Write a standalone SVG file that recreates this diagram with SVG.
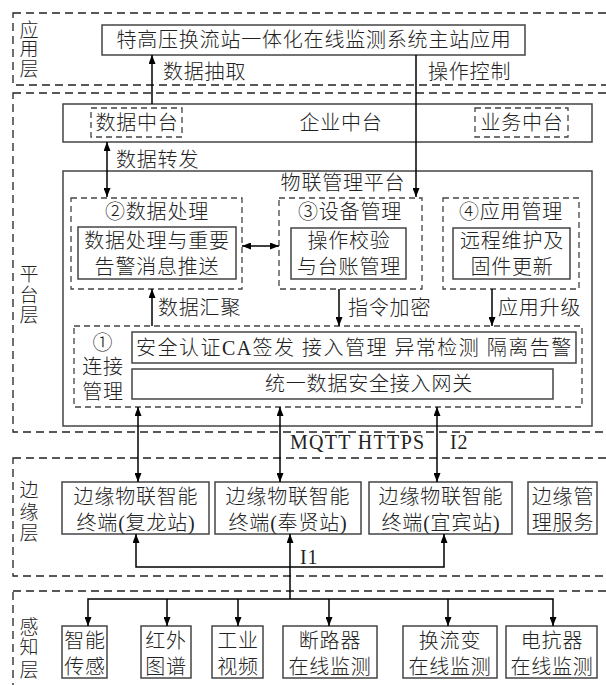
<svg xmlns="http://www.w3.org/2000/svg" width="606" height="685" viewBox="0 0 606 685">
<style>
.layer{fill:none;stroke:#222;stroke-width:1.3;stroke-dasharray:8 5}
.dbox{fill:none;stroke:#444;stroke-width:1.3;stroke-dasharray:6 4}
.box{fill:none;stroke:#444;stroke-width:1.5}
.ln{fill:none;stroke:#000;stroke-width:1.5}
.t{font-family:'Liberation Serif','Noto Sans CJK SC',serif;font-size:20px;fill:#222;letter-spacing:0.8px;font-weight:300}
.m{text-anchor:middle}
.lab{font-size:19px;letter-spacing:0}
</style>
<defs>
<marker id="ar" markerUnits="userSpaceOnUse" markerWidth="9" markerHeight="7" refX="9" refY="3.5" orient="auto-start-reverse">
<path d="M0,0 L9,3.5 L0,7 z" fill="#000"/>
</marker>
</defs>
<rect width="606" height="685" fill="#fff"/>

<g id="layers">
<rect class="layer" x="13" y="13" width="600" height="72"/>
<rect class="layer" x="13" y="93" width="600" height="339"/>
<rect class="layer" x="13" y="458" width="600" height="118"/>
<rect class="layer" x="13" y="591" width="600" height="100"/>
<text class="t m lab"><tspan x="29" y="37">应</tspan><tspan x="29" y="56">用</tspan><tspan x="29" y="76">层</tspan></text>
<text class="t m lab"><tspan x="29" y="281">平</tspan><tspan x="29" y="302">台</tspan><tspan x="29" y="322">层</tspan></text>
<text class="t m lab"><tspan x="29" y="497">边</tspan><tspan x="29" y="519">缘</tspan><tspan x="29" y="540">层</tspan></text>
<text class="t m lab"><tspan x="29" y="634">感</tspan><tspan x="29" y="654">知</tspan><tspan x="29" y="677">层</tspan></text>
</g>

<g id="master-app">
<rect class="box" x="102" y="25" width="423" height="30"/>
<text class="t m" x="314" y="47">特高压换流站一体化在线监测系统主站应用</text>
</g>

<g id="enterprise">
<rect class="box" x="63" y="104" width="529" height="38"/>
<rect class="dbox" x="91" y="108" width="91" height="29"/>
<text class="t m" x="137" y="130">数据中台</text>
<text class="t m" x="341" y="130">企业中台</text>
<rect class="dbox" x="475" y="108" width="93" height="29"/>
<text class="t m" x="522" y="130">业务中台</text>
</g>

<g id="iot-platform">
<rect class="box" x="63" y="171" width="529" height="255"/>
<text class="t m" x="343" y="190">物联管理平台</text>
</g>

<g id="data-proc">
<rect class="dbox" x="71" y="198" width="171" height="91"/>
<text class="t m" x="157" y="219">②数据处理</text>
<rect class="box" x="78" y="227" width="158" height="52"/>
<text class="t m" x="157" y="248">数据处理与重要</text>
<text class="t m" x="157" y="274">告警消息推送</text>
</g>

<g id="dev-mgmt">
<rect class="dbox" x="279" y="198" width="143" height="91"/>
<text class="t m" x="350" y="219">③设备管理</text>
<rect class="box" x="291" y="228" width="115" height="51"/>
<text class="t m" x="349" y="248">操作校验</text>
<text class="t m" x="349" y="274">与台账管理</text>
</g>

<g id="app-mgmt">
<rect class="dbox" x="443" y="198" width="136" height="91"/>
<text class="t m" x="511" y="219">④应用管理</text>
<rect class="box" x="453" y="228" width="117" height="51"/>
<text class="t m" x="512" y="248">远程维护及</text>
<text class="t m" x="512" y="274">固件更新</text>
</g>

<g id="conn-mgmt">
<rect class="dbox" x="74" y="326" width="508" height="81"/>
<text class="t m" x="103" y="350">①</text>
<text class="t m" x="103" y="374">连接</text>
<text class="t m" x="103" y="399">管理</text>
<rect class="box" x="132" y="332" width="444" height="31"/>
<text class="t" x="136" y="355" textLength="436" lengthAdjust="spacing">安全认证CA签发 接入管理 异常检测 隔离告警</text>
<rect class="box" x="132" y="369" width="421" height="30"/>
<text class="t m" x="369" y="391">统一数据安全接入网关</text>
</g>

<g id="edge-fulong">
<rect class="box" x="62" y="482" width="147" height="52"/>
<text class="t m" x="136" y="504">边缘物联智能</text>
<text class="t m" x="136" y="530">终端(复龙站)</text>
</g>
<g id="edge-fengxian">
<rect class="box" x="215" y="482" width="146" height="52"/>
<text class="t m" x="288" y="504">边缘物联智能</text>
<text class="t m" x="288" y="530">终端(奉贤站)</text>
</g>
<g id="edge-yibin">
<rect class="box" x="369" y="482" width="143" height="52"/>
<text class="t m" x="441" y="504">边缘物联智能</text>
<text class="t m" x="441" y="530">终端(宜宾站)</text>
</g>
<g id="edge-service">
<rect class="box" x="528" y="482" width="69" height="52"/>
<text class="t m" x="563" y="504">边缘管</text>
<text class="t m" x="563" y="530">理服务</text>
</g>

<g id="sense-smart">
<rect class="box" x="62" y="626" width="45" height="52"/>
<text class="t m" x="85" y="648">智能</text>
<text class="t m" x="85" y="674">传感</text>
</g>
<g id="sense-ir">
<rect class="box" x="141" y="626" width="50" height="52"/>
<text class="t m" x="166" y="648">红外</text>
<text class="t m" x="166" y="674">图谱</text>
</g>
<g id="sense-video">
<rect class="box" x="212" y="626" width="51" height="52"/>
<text class="t m" x="238" y="648">工业</text>
<text class="t m" x="238" y="674">视频</text>
</g>
<g id="sense-breaker">
<rect class="box" x="283" y="626" width="94" height="52"/>
<text class="t m" x="330" y="648">断路器</text>
<text class="t m" x="330" y="674">在线监测</text>
</g>
<g id="sense-converter">
<rect class="box" x="403" y="626" width="94" height="52"/>
<text class="t m" x="450" y="648">换流变</text>
<text class="t m" x="450" y="674">在线监测</text>
</g>
<g id="sense-reactor">
<rect class="box" x="506" y="626" width="91" height="52"/>
<text class="t m" x="552" y="648">电抗器</text>
<text class="t m" x="552" y="674">在线监测</text>
</g>

<g id="connectors">
<line class="ln" x1="152" y1="104" x2="152" y2="55" marker-end="url(#ar)"/>
<text class="t" x="163" y="79">数据抽取</text>
<line class="ln" x1="416" y1="55" x2="416" y2="197" marker-end="url(#ar)"/>
<text class="t" x="428" y="79">操作控制</text>
<line class="ln" x1="107" y1="142" x2="107" y2="197" marker-start="url(#ar)" marker-end="url(#ar)"/>
<text class="t" x="116" y="167">数据转发</text>
<line class="ln" x1="242" y1="246" x2="279" y2="246" marker-start="url(#ar)" marker-end="url(#ar)"/>
<line class="ln" x1="152" y1="326" x2="152" y2="289" marker-end="url(#ar)"/>
<text class="t" x="158" y="315">数据汇聚</text>
<line class="ln" x1="339" y1="289" x2="339" y2="326" marker-end="url(#ar)"/>
<text class="t" x="348" y="315">指令加密</text>
<line class="ln" x1="492" y1="289" x2="492" y2="326" marker-end="url(#ar)"/>
<text class="t" x="498" y="315">应用升级</text>
<line class="ln" x1="138" y1="407" x2="138" y2="482" marker-start="url(#ar)" marker-end="url(#ar)"/>
<line class="ln" x1="280" y1="407" x2="280" y2="482" marker-start="url(#ar)" marker-end="url(#ar)"/>
<line class="ln" x1="437" y1="407" x2="437" y2="482" marker-start="url(#ar)" marker-end="url(#ar)"/>
<text class="t" x="290" y="449" textLength="135" lengthAdjust="spacing">MQTT HTTPS</text>
<text class="t" x="450" y="449">I2</text>
<path class="ln" d="M136,534 V567 H444 V534" marker-start="url(#ar)" marker-end="url(#ar)"/>
<line class="ln" x1="290" y1="599" x2="290" y2="534" marker-end="url(#ar)"/>
<text class="t" x="300" y="564">I1</text>
<path class="ln" d="M88,626 V599 H553 V626" marker-start="url(#ar)" marker-end="url(#ar)"/>
<line class="ln" x1="167" y1="599" x2="167" y2="626" marker-end="url(#ar)"/>
<line class="ln" x1="238" y1="599" x2="238" y2="626" marker-end="url(#ar)"/>
<line class="ln" x1="329" y1="599" x2="329" y2="626" marker-end="url(#ar)"/>
<line class="ln" x1="448" y1="599" x2="448" y2="626" marker-end="url(#ar)"/>
</g>
</svg>
